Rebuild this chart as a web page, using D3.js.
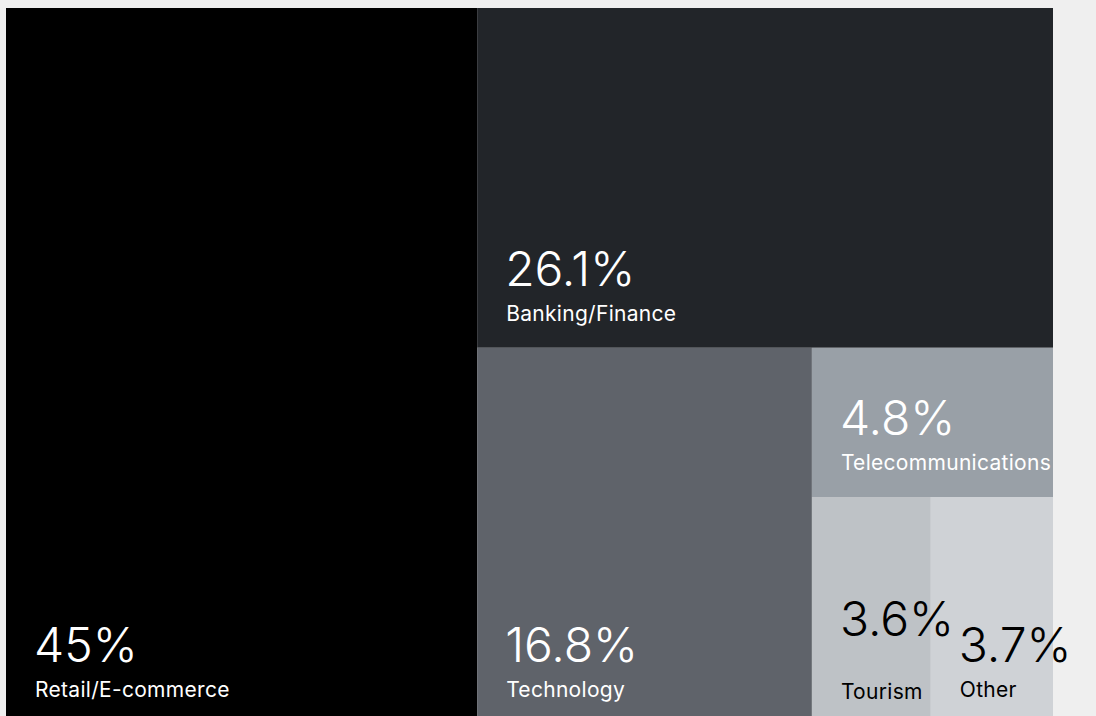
<!DOCTYPE html>
<html>
<head>
<meta charset="utf-8">
<script src="https://cdn.jsdelivr.net/npm/d3@7"></script>
<style>
  html, body { margin: 0; padding: 0; background: #efefef; overflow: hidden; }
  svg { display: block; }
</style>
</head>
<body>
<svg id="chart" width="1096" height="716"></svg>
<script>
// Share of respondents by industry sector (%)
const sectors = ["Retail/E-commerce", "Banking/Finance", "Technology", "Telecommunications", "Tourism", "Other"];
const shares  = [45, 26.1, 16.8, 4.8, 3.6, 3.7];
const shareLabels = ["45%", "26.1%", "16.8%", "4.8%", "3.6%", "3.7%"];
const tileColors = ["#000000", "#222529", "#5f636a", "#99a0a7", "#bec2c6", "#cfd2d6"];
const textColors = ["#ffffff", "#ffffff", "#ffffff", "#ffffff", "#000000", "#000000"];

const svg = d3.select("#chart");
const margin = { left: 6, top: 8 };
const W = 1047, H = 716;

const root = d3.hierarchy({
  children: sectors.map((s, i) => ({ name: s, value: shares[i], label: shareLabels[i], i }))
}).sum(d => d.value || 0);

d3.treemap()
  .tile(d3.treemapSquarify.ratio(1))
  .size([W, H])
  .paddingInner(0)
  .round(false)(root);

const g = svg.append("g").attr("transform", `translate(${margin.left},${margin.top})`);
const leaves = root.leaves();

// tiles first, so every label sits above all of them
g.append("g").attr("class", "tiles")
  .selectAll("rect")
  .data(leaves)
  .join("rect")
  .attr("x", d => d.x0)
  .attr("y", d => d.y0)
  .attr("width", d => d.x1 - d.x0)
  .attr("height", d => d.y1 - d.y0)
  .attr("fill", d => tileColors[d.data.i]);

// the Tourism tile sets its figure a little higher than the rest
const figureLift = { "Tourism": 26 };

const labels = g.append("g").attr("class", "labels")
  .selectAll("g")
  .data(leaves)
  .join("g");

labels.append("text")
  .attr("x", d => d.x0 + 28)
  .attr("y", d => d.y1 - 62 - (figureLift[d.data.name] || 0))
  .attr("fill", d => textColors[d.data.i])
  .style("font-family", "Inter, 'Noto Sans', sans-serif")
  .style("font-weight", 300)
  .style("font-size", "48px")
  .text(d => d.data.label);

labels.append("text")
  .attr("x", d => d.x0 + 29)
  .attr("y", d => d.y1 - 27 + (d.data.name === "Tourism" ? 2 : 0))
  .attr("fill", d => textColors[d.data.i])
  .style("font-family", "Inter, 'Noto Sans', sans-serif")
  .style("font-weight", 400)
  .style("font-size", "21px")
  .style("letter-spacing", "0.3px")
  .text(d => d.data.name);
</script>
</body>
</html>
